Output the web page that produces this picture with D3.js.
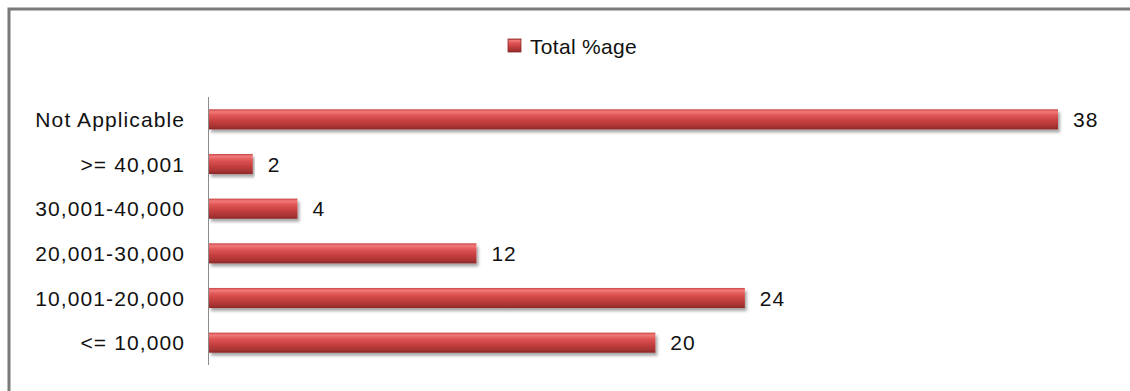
<!DOCTYPE html>
<html><head><meta charset="utf-8">
<script src="https://cdn.jsdelivr.net/npm/d3@7"></script>
<style>body{margin:0;background:#fff}svg{display:block}</style>
</head><body>
<script>
const categories = ["Not Applicable", ">= 40,001", "30,001-40,000", "20,001-30,000", "10,001-20,000", "<= 10,000"];
const values = [38, 2, 4, 12, 24, 20];
const seriesName = "Total %age";

const W = 1130, H = 391;
const svg = d3.select("body").append("svg").attr("width", W).attr("height", H);
const defs = svg.append("defs");
const g = defs.append("linearGradient").attr("id","barg").attr("x1",0).attr("y1",0).attr("x2",0).attr("y2",1);
[[0,"#c94545"],[0.12,"#f27a7a"],[0.3,"#e05656"],[0.6,"#c53e3e"],[0.85,"#a83434"],[1,"#8a2828"]].forEach(([o,c])=>g.append("stop").attr("offset",o).attr("stop-color",c));
const f = defs.append("filter").attr("id","sh").attr("x","-5%").attr("y","-20%").attr("width","110%").attr("height","160%");
f.append("feDropShadow").attr("dx",2).attr("dy",3).attr("stdDeviation",1.5).attr("flood-color","#000").attr("flood-opacity",0.35);

// frame
svg.append("path").attr("d","M9,391 V9 H1130").attr("fill","none").attr("stroke","#7a7a7a").attr("stroke-width",3);

const font = "'Liberation Sans', Arial, sans-serif";
const x = d3.scaleLinear().domain([0, 38]).range([208, 1058]);
const y = d3.scaleBand().domain(categories).range([97, 365]).paddingInner(0.55).paddingOuter(0.275);

// axis line
svg.append("line").attr("x1",208.5).attr("x2",208.5).attr("y1",97).attr("y2",365).attr("stroke","#8c8c8c").attr("stroke-width",1);

const rows = svg.append("g").selectAll("g").data(categories).join("g");
rows.append("rect")
  .attr("x", x(0)+1).attr("y", d=>y(d))
  .attr("width", (d,i)=>x(values[i])-x(0)-1).attr("height", y.bandwidth())
  .attr("fill","url(#barg)").attr("filter","url(#sh)");
rows.append("text")
  .attr("x", (d,i)=>x(values[i])+15).attr("y", d=>y(d)+y.bandwidth()/2)
  .attr("dy","0.36em").attr("font-family",font).attr("font-size",21).attr("letter-spacing",1).attr("fill","#111")
  .text((d,i)=>values[i]);
rows.append("text")
  .attr("x", 185).attr("y", d=>y(d)+y.bandwidth()/2)
  .attr("dy","0.36em").attr("text-anchor","end").attr("font-family",font).attr("font-size",21).attr("letter-spacing",1.1).attr("fill","#111")
  .text(d=>d);

// legend
const lg = svg.append("g");
lg.append("rect").attr("x",508).attr("y",39).attr("width",13).attr("height",13).attr("fill","url(#barg)").attr("stroke","#8a2828").attr("stroke-width",0.8);
lg.append("text").attr("x",530).attr("y",46).attr("dy","0.36em").attr("font-family",font).attr("font-size",21).attr("letter-spacing",0.3).attr("fill","#111").text(seriesName);
</script>
</body></html>
